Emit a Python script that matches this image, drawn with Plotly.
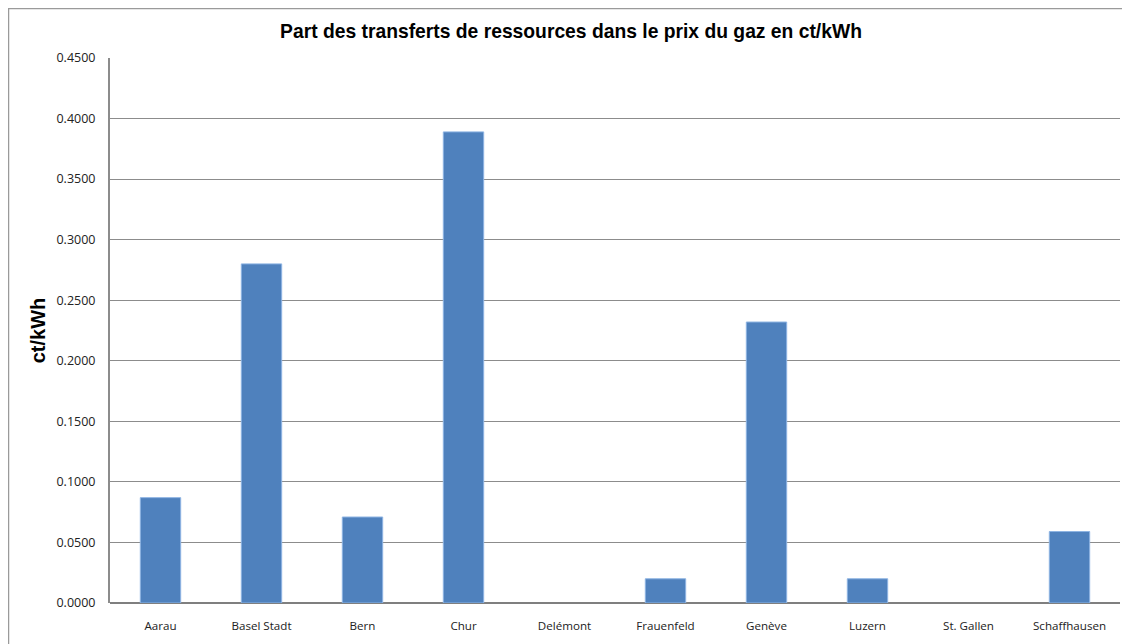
import plotly.graph_objects as go

categories = ["Aarau", "Basel Stadt", "Bern", "Chur", "Delémont", "Frauenfeld",
              "Genève", "Luzern", "St. Gallen", "Schaffhausen"]
values = [0.087, 0.280, 0.071, 0.389, 0.0, 0.020, 0.232, 0.020, 0.0, 0.059]
y_ticks = [0.0, 0.05, 0.10, 0.15, 0.20, 0.25, 0.30, 0.35, 0.40, 0.45]
y_tick_labels = [f"{v:.4f}" for v in y_ticks]

# page has an 8px body margin, figure sits at (8, 8)
W, H = 1122, 636
L, R, T, B = 102, 10, 50, 41

fig = go.Figure(go.Bar(
    x=categories, y=values,
    marker=dict(color="#4F81BD",
                line=dict(color="#8EB4E3", width=[1 if v > 0 else 0 for v in values])),
    hoverinfo="x+y",
))

pw = W - L - R
ph = H - T - B
fig.add_shape(type="rect", xref="paper", yref="paper",
              x0=(0.5 - L) / pw, x1=(W + 5 - L) / pw,
              y0=-(H + 5 - T - ph) / ph, y1=1 + (T - 0.5) / ph,
              line=dict(color="#9a9a9a", width=1.5), fillcolor="rgba(0,0,0,0)",
              layer="below")

fig.update_layout(
    width=W, height=H,
    margin=dict(l=L, r=R, t=T, b=B),
    paper_bgcolor="white", plot_bgcolor="white",
    bargap=0.6,
    showlegend=False,
    title=dict(text="<b>Part des transferts de ressources dans le prix du gaz en ct/kWh</b>",
               x=563 / W, xref="container", xanchor="center",
               y=1 - 23 / H, yref="container", yanchor="middle",
               font=dict(family="Liberation Sans, Arial", size=19.3, color="black")),
    font=dict(family="Open Sans, Liberation Sans", size=11, color="#222"),
    xaxis=dict(showgrid=False, showline=False, ticks="",
               tickfont=dict(size=11.6), ticklen=0, ticklabelstandoff=14),
    yaxis=dict(range=[0, 0.45], tickvals=y_ticks, ticktext=y_tick_labels,
               showgrid=True, gridcolor="#8c8c8c", gridwidth=1,
               showline=True, linecolor="#8c8c8c", linewidth=2,
               zeroline=True, zerolinecolor="#7f7f7f", zerolinewidth=2,
               ticks="", ticklabelstandoff=10,
               tickfont=dict(size=12.5),
               title=dict(text="<b>ct/kWh</b>", standoff=5,
                          font=dict(family="Liberation Sans, Arial", size=20, color="black"))),
)

fig.write_html("out.html")
